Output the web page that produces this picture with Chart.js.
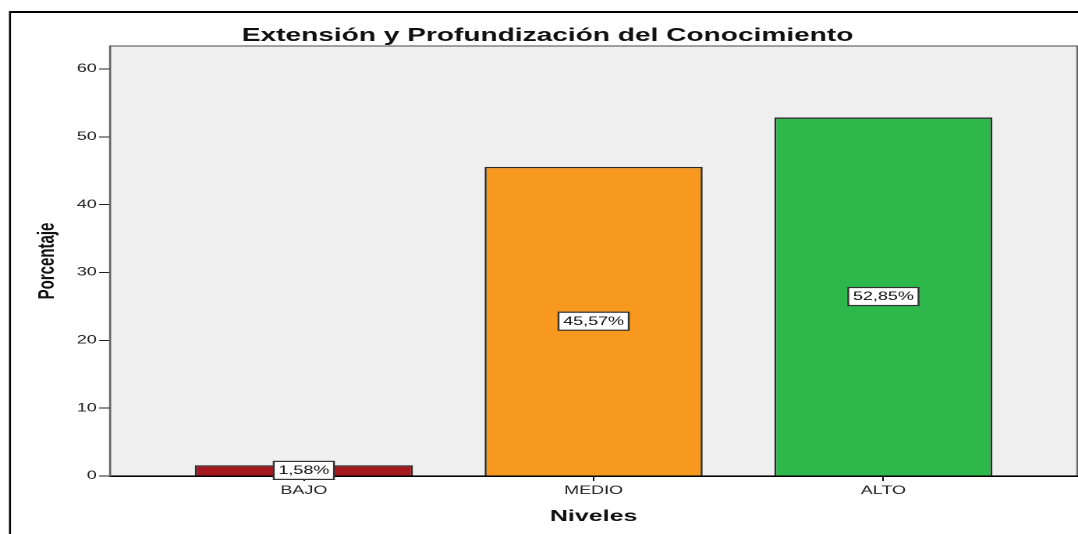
<!DOCTYPE html>
<html>
<head>
<meta charset="utf-8">
<script src="https://cdn.jsdelivr.net/npm/chart.js@4"></script>
<style>
  body { margin: 0; background: #fff; overflow: hidden; }
  /* la imagen original esta estirada en horizontal: dibujamos estrecho y estiramos */
  #wrap { width: 691px; height: 534px; position: relative; transform: scaleX(1.5601); transform-origin: 0 0; }
</style>
</head>
<body>
<div id="wrap"><canvas id="barChart"></canvas></div>
<script>
// Datos
const niveles = ['BAJO', 'MEDIO', 'ALTO'];
const porcentajes = [1.58, 45.57, 52.85];
const etiquetas = ['1,58%', '45,57%', '52,85%'];
const colores = ['#a5181d', '#f7981f', '#2eb84b'];
const ticksY = [0, 10, 20, 30, 40, 50, 60];

// fondo gris del area y marco exterior
const fondoPlugin = {
  id: 'fondo',
  beforeDraw(chart) {
    const c = chart.ctx;
    const a = chart.chartArea;
    c.save();
    c.strokeStyle = '#000';
    c.lineWidth = 1.3;
    c.beginPath();
    c.moveTo(6.4, 534);
    c.lineTo(6.4, 12);
    c.stroke();
    c.lineWidth = 2;
    c.beginPath();
    c.moveTo(5.8, 12);
    c.lineTo(chart.width, 12);
    c.stroke();
    c.fillStyle = '#efefef';
    c.fillRect(a.left, a.top, a.right - a.left, a.bottom - a.top);
    c.strokeStyle = '#666';
    c.lineWidth = 1.2;
    c.strokeRect(a.left, a.top, a.right - a.left, a.bottom - a.top);
    c.restore();
  }
};

// cajas con el porcentaje en el centro de cada barra
const etiquetaPlugin = {
  id: 'etiquetas',
  afterDatasetsDraw(chart) {
    const c = chart.ctx;
    const meta = chart.getDatasetMeta(0);
    c.save();
    c.font = '11.5px "Liberation Sans", Arial, sans-serif';
    c.textAlign = 'center';
    c.textBaseline = 'middle';
    meta.data.forEach((bar, i) => {
      const txt = etiquetas[i];
      const cy = (bar.y + bar.base) / 2;
      const w = c.measureText(txt).width + 6;
      const h = 18;
      c.fillStyle = '#fff';
      c.fillRect(bar.x - w / 2, cy - h / 2, w, h);
      c.strokeStyle = '#333';
      c.lineWidth = 1.2;
      c.strokeRect(bar.x - w / 2, cy - h / 2, w, h);
      c.fillStyle = '#111';
      c.fillText(txt, bar.x, cy + 0.5);
    });
    c.restore();
  }
};

Chart.defaults.font.family = '"Liberation Sans", Arial, sans-serif';
Chart.defaults.color = '#222';

const ctx = document.getElementById('barChart').getContext('2d');
const barChart = new Chart(ctx, {
  type: 'bar',
  data: {
    datasets: [{
      data: porcentajes.map((v, i) => ({ x: i, y: v })),
      backgroundColor: colores,
      borderColor: '#2a2a2a',
      borderWidth: 1.3,
      borderSkipped: 'bottom',
      categoryPercentage: 1,
      barPercentage: 0.7525
    }]
  },
  options: {
    responsive: true,
    maintainAspectRatio: false,
    devicePixelRatio: 2,
    animation: false,
    layout: { padding: { left: 11.5, right: 0.5, top: 0, bottom: 0 } },
    plugins: {
      legend: { display: false },
      tooltip: { enabled: false },
      title: {
        display: true,
        text: 'Extensión y Profundización del Conocimiento',
        color: '#111',
        font: { size: 18, weight: 'bold', lineHeight: 1 },
        padding: { top: 27, bottom: 1 }
      }
    },
    scales: {
      x: {
        type: 'linear',
        offset: false,
        min: -0.669,
        max: 2.669,
        afterBuildTicks: (s) => { s.ticks = niveles.map((_, i) => ({ value: i })); },
        afterFit: (s) => { s.height = 58; },
        ticks: {
          callback: (v) => niveles[v],
          font: { size: 11.5 },
          padding: 3,
          maxRotation: 0
        },
        grid: { offset: false, drawOnChartArea: false, drawTicks: true, tickLength: 5, color: '#111' },
        border: { color: '#000', width: 1.5 },
        title: {
          display: true,
          text: 'Niveles',
          color: '#111',
          font: { size: 16, weight: 'bold' },
          padding: { top: 0, bottom: 8 }
        }
      },
      y: {
        min: 0,
        max: 63.4,
        afterBuildTicks: (s) => { s.ticks = ticksY.map(v => ({ value: v })); },
        afterFit: (s) => { s.width = 59; },
        ticks: { font: { size: 11.5 }, padding: 1.5 },
        grid: { drawOnChartArea: false, drawTicks: true, tickLength: 7, color: '#222' },
        border: { color: '#666', width: 1.2 },
        title: {
          display: true,
          text: 'Porcentaje',
          color: '#111',
          font: { size: 15, weight: 'bold' },
          padding: { top: 10, bottom: 0 }
        }
      }
    }
  },
  plugins: [fondoPlugin, etiquetaPlugin]
});
</script>
</body>
</html>
